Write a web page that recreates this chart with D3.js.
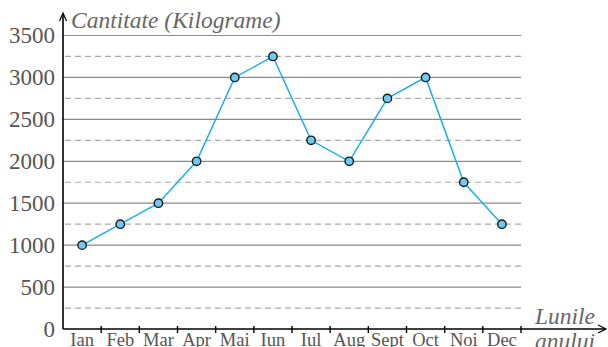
<!DOCTYPE html>
<html>
<head>
<meta charset="utf-8">
<script src="https://cdn.jsdelivr.net/npm/d3@7"></script>
<style>
  html, body { margin: 0; padding: 0; background: #fff; }
  svg { display: block; }
</style>
</head>
<body>
<svg id="chart" width="608" height="347"></svg>
<script>
// Monthly quantities (kg)
const months = ["Ian", "Feb", "Mar", "Apr", "Mai", "Iun", "Iul", "Aug", "Sept", "Oct", "Noi", "Dec"];
const quantities = [1000, 1250, 1500, 2000, 3000, 3250, 2250, 2000, 2750, 3000, 1750, 1250];
const majorTicks = [0, 500, 1000, 1500, 2000, 2500, 3000, 3500];
const minorTicks = [250, 750, 1250, 1750, 2250, 2750, 3250];

const serif = "'Liberation Serif', 'Times New Roman', Times, 'DejaVu Serif', serif";
const svg = d3.select("#chart").attr("font-family", serif);
const plotLeft = 63, plotRight = 521, plotTop = 35.5, plotBottom = 329;

const x = d3.scaleBand().domain(months).range([plotLeft, plotRight]);
const y = d3.scaleLinear().domain([0, 3500]).range([plotBottom, plotTop]);

// Solid grid lines at each 500 kg
svg.append("g").selectAll("line").data(majorTicks.filter(d => d > 0)).join("line")
  .attr("x1", plotLeft).attr("x2", plotRight)
  .attr("y1", d => y(d)).attr("y2", d => y(d))
  .attr("stroke", "#8a8a8a").attr("stroke-width", 1.2);

// Dashed grid lines halfway between
svg.append("g").selectAll("line").data(minorTicks).join("line")
  .attr("x1", plotLeft + 2).attr("x2", plotRight)
  .attr("y1", d => y(d)).attr("y2", d => y(d))
  .attr("stroke", "#aaaaaa").attr("stroke-width", 1.2)
  .attr("stroke-dasharray", "6,4");

// Y value labels
svg.append("g").selectAll("text").data(majorTicks).join("text")
  .attr("x", 55).attr("y", d => y(d)).attr("dy", "0.33em")
  .attr("text-anchor", "end")
  .attr("font-family", serif)
  .attr("font-size", 23).attr("fill", "#555")
  .text(d => d);

// X axis with ticks at band boundaries and an arrow
svg.append("line")
  .attr("x1", plotLeft).attr("x2", 605).attr("y1", plotBottom).attr("y2", plotBottom)
  .attr("stroke", "#000").attr("stroke-width", 1.6);
svg.append("path")
  .attr("d", `M598,${plotBottom - 4} L606,${plotBottom} L598,${plotBottom + 4}`)
  .attr("fill", "none").attr("stroke", "#000").attr("stroke-width", 1.2);
svg.append("g").selectAll("line").data(months).join("line")
  .attr("x1", d => x(d) + x.bandwidth()).attr("x2", d => x(d) + x.bandwidth())
  .attr("y1", plotBottom - 3).attr("y2", plotBottom + 4)
  .attr("stroke", "#000").attr("stroke-width", 1.4);

// Y axis with arrow
svg.append("line")
  .attr("x1", plotLeft).attr("x2", plotLeft).attr("y1", plotBottom).attr("y2", 14)
  .attr("stroke", "#000").attr("stroke-width", 1.6);
svg.append("path")
  .attr("d", `M${plotLeft - 3.5},21 L${plotLeft},13 L${plotLeft + 3.5},21`)
  .attr("fill", "none").attr("stroke", "#000").attr("stroke-width", 1.2);

// Month labels
svg.append("g").selectAll("text").data(months).join("text")
  .attr("x", d => x(d) + x.bandwidth() / 2).attr("y", 346)
  .attr("text-anchor", "middle")
  .attr("font-family", serif)
  .attr("font-size", 18.5).attr("fill", "#555")
  .text(d => d);

// Axis titles
svg.append("text")
  .attr("x", 71).attr("y", 28)
  .attr("font-family", serif)
  .attr("font-size", 23.5).attr("font-style", "italic").attr("fill", "#666")
  .text("Cantitate (Kilograme)");
svg.append("text")
  .attr("x", 565).attr("y", 324).attr("text-anchor", "middle")
  .attr("font-family", serif)
  .attr("font-size", 23.5).attr("font-style", "italic").attr("fill", "#666")
  .text("Lunile");
svg.append("text")
  .attr("x", 565).attr("y", 349).attr("text-anchor", "middle")
  .attr("font-family", serif)
  .attr("font-size", 23.5).attr("font-style", "italic").attr("fill", "#666")
  .text("anului");

// Data line and points
const line = d3.line()
  .x((d, i) => x(months[i]) + x.bandwidth() / 2)
  .y(d => y(d));
svg.append("path")
  .datum(quantities)
  .attr("d", line)
  .attr("fill", "none").attr("stroke", "#1aaee8").attr("stroke-width", 1.5);
svg.append("g").selectAll("circle").data(quantities).join("circle")
  .attr("cx", (d, i) => x(months[i]) + x.bandwidth() / 2)
  .attr("cy", d => y(d))
  .attr("r", 4.2)
  .attr("fill", "#6ccbef").attr("stroke", "#1a1a1a").attr("stroke-width", 1.4);
</script>
</body>
</html>
